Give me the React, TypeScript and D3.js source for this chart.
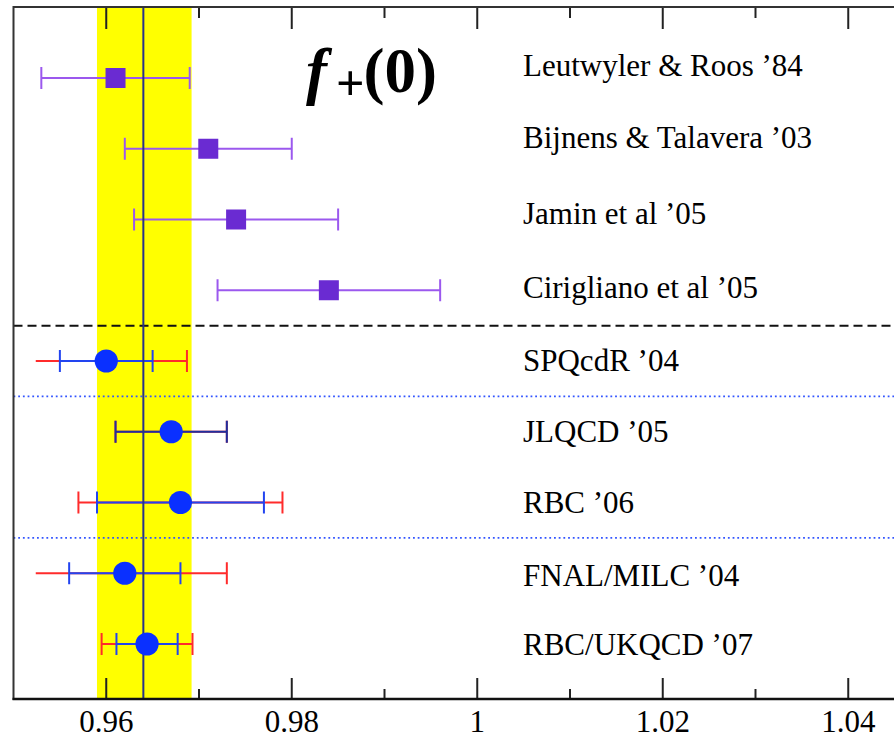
import React, { useEffect, useRef } from 'react';
import * as d3 from 'd3';

// measurements, top to bottom
const names = [
  'Leutwyler & Roos ’84',
  'Bijnens & Talavera ’03',
  'Jamin et al ’05',
  'Cirigliano et al ’05',
  'SPQcdR ’04',
  'JLQCD ’05',
  'RBC ’06',
  'FNAL/MILC ’04',
  'RBC/UKQCD ’07',
];
const kinds = ['model', 'model', 'model', 'model', 'lattice', 'lattice', 'lattice', 'lattice', 'lattice'];
const values = [0.961, 0.971, 0.974, 0.984, 0.96, 0.967, 0.968, 0.962, 0.9644];
const statErr = [0.008, 0.009, 0.011, 0.012, 0.005, 0.006, 0.009, 0.006, 0.0033];
const totalErr = [0, 0, 0, 0, 0.0087, 0.006, 0.011, 0.011, 0.0049];
const redClipMin = 0.9524; // red bars are cut here (no cap)

// average band
const bandLow = 0.959;
const bandHigh = 0.9692;
const bandCenter = 0.964;

// separators after row index
const dashedAfter = [3];
const dottedAfter = [4, 6];

const majorTicks = [0.96, 0.98, 1, 1.02, 1.04];
const minorTicks = [0.97, 0.99, 1.01, 1.03, 1.05];

const W = 894;
const H = 739;

const Chart = () => {
  const svgRef = useRef<SVGSVGElement | null>(null);

  useEffect(() => {
    if (!svgRef.current) return;
    const plotLeft = 13.5;
    const plotTop = 7;
    const plotBottom = 699;

    const x = d3.scaleLinear().domain([0.95, 1.05]).range([plotLeft, 941]);
    const y = d3.scaleLinear().domain([0, 8]).range([78, 644]);

    const svg = d3.select(svgRef.current);
    svg.selectAll('*').remove();

    const serif = '"Liberation Serif", "Times New Roman", serif';

    // yellow band
    svg.append('rect')
      .attr('x', x(bandLow))
      .attr('y', plotTop)
      .attr('width', x(bandHigh) - x(bandLow))
      .attr('height', plotBottom - plotTop)
      .attr('fill', '#ffff00');

    // separators
    svg.selectAll('.dash')
      .data(dashedAfter)
      .enter()
      .append('line')
      .attr('x1', plotLeft)
      .attr('x2', W)
      .attr('y1', d => y(d + 0.5))
      .attr('y2', d => y(d + 0.5))
      .attr('stroke', '#111')
      .attr('stroke-width', 2)
      .attr('stroke-dasharray', '9,5');

    svg.selectAll('.dot')
      .data(dottedAfter)
      .enter()
      .append('line')
      .attr('x1', plotLeft)
      .attr('x2', W)
      .attr('y1', d => y(d + 0.5))
      .attr('y2', d => y(d + 0.5))
      .attr('stroke', '#3355ff')
      .attr('stroke-width', 1.8)
      .attr('stroke-dasharray', '1.8,2.9');

    const rows = names.map((name, i) => ({
      name,
      i,
      kind: kinds[i],
      v: values[i],
      stat: statErr[i],
      tot: totalErr[i],
    }));

    const capH = 11;
    const errBar = (g, lo, hi, yy, color, capLo = true) => {
      g.append('line')
        .attr('x1', x(lo)).attr('x2', x(hi))
        .attr('y1', yy).attr('y2', yy)
        .attr('stroke', color).attr('stroke-width', 2);
      if (capLo) {
        g.append('line')
          .attr('x1', x(lo)).attr('x2', x(lo))
          .attr('y1', yy - capH).attr('y2', yy + capH)
          .attr('stroke', color).attr('stroke-width', 2);
      }
      g.append('line')
        .attr('x1', x(hi)).attr('x2', x(hi))
        .attr('y1', yy - capH).attr('y2', yy + capH)
        .attr('stroke', color).attr('stroke-width', 2);
    };

    const bars = svg.append('g');
    rows.forEach(r => {
      const yy = y(r.i);
      if (r.kind === 'model') {
        errBar(bars, r.v - r.stat, r.v + r.stat, yy, '#9b58ee');
      } else {
        const lo = r.v - r.tot;
        errBar(bars, Math.max(lo, redClipMin), r.v + r.tot, yy, '#ff2b2b', lo >= redClipMin);
        // where red and blue coincide the overlap looks navy
        errBar(bars, r.v - r.stat, r.v + r.stat, yy, r.tot <= r.stat ? '#1f2f9e' : '#2244f0');
      }
    });

    // central value
    svg.append('line')
      .attr('x1', x(bandCenter)).attr('x2', x(bandCenter))
      .attr('y1', plotTop).attr('y2', plotBottom)
      .attr('stroke', '#27338a')
      .attr('stroke-width', 2);

    // markers
    const sq = 20;
    svg.selectAll('.sq')
      .data(rows.filter(r => r.kind === 'model'))
      .enter()
      .append('rect')
      .attr('x', d => x(d.v) - sq / 2)
      .attr('y', d => y(d.i) - sq / 2)
      .attr('width', sq)
      .attr('height', sq)
      .attr('fill', '#6a2bd2');

    svg.selectAll('.circ')
      .data(rows.filter(r => r.kind === 'lattice'))
      .enter()
      .append('circle')
      .attr('cx', d => x(d.v))
      .attr('cy', d => y(d.i))
      .attr('r', 11.6)
      .attr('fill', '#0a30ff');

    // labels
    const labelShift = [-12, -11, -6, -2, 0, 0, 0, 3, 1];
    svg.selectAll('.lbl')
      .data(rows)
      .enter()
      .append('text')
      .attr('x', 523)
      .attr('y', d => y(d.i) + labelShift[d.i] + 10)
      .attr('font-family', serif)
      .attr('font-size', 31)
      .attr('fill', '#000')
      .text(d => d.name);

    // title f+(0)
    const title = svg.append('text')
      .attr('x', 306)
      .attr('y', 92)
      .attr('font-family', serif)
      .attr('font-weight', 'bold')
      .attr('font-size', 63)
      .attr('fill', '#000');
    title.append('tspan').attr('font-style', 'italic').text('f');
    title.append('tspan').attr('font-size', 50).attr('dx', 9).attr('dy', 8).text('+');
    title.append('tspan').attr('dx', -1).attr('dy', -8).text('(0)');

    // ticks top and bottom
    const tickG = svg.append('g').attr('stroke', '#222').attr('stroke-width', 2);
    [
      { list: majorTicks, len: 21 },
      { list: minorTicks, len: 10 },
    ].forEach(({ list, len }) => {
      list.forEach(t => {
        tickG.append('line')
          .attr('x1', x(t)).attr('x2', x(t))
          .attr('y1', plotBottom).attr('y2', plotBottom - len);
        tickG.append('line')
          .attr('x1', x(t)).attr('x2', x(t))
          .attr('y1', plotTop).attr('y2', plotTop + len + 1);
      });
    });

    svg.selectAll('.tl')
      .data(majorTicks)
      .enter()
      .append('text')
      .attr('x', d => x(d))
      .attr('y', 732)
      .attr('text-anchor', 'middle')
      .attr('font-family', serif)
      .attr('font-size', 31)
      .attr('fill', '#000')
      .text(d => d3.format('~g')(d));

    // frame
    svg.append('line')
      .attr('x1', plotLeft).attr('x2', W)
      .attr('y1', plotTop).attr('y2', plotTop)
      .attr('stroke', '#333').attr('stroke-width', 2);
    svg.append('line')
      .attr('x1', plotLeft).attr('x2', plotLeft)
      .attr('y1', plotTop - 1).attr('y2', plotBottom + 1)
      .attr('stroke', '#333').attr('stroke-width', 2);
    svg.append('line')
      .attr('x1', plotLeft - 1).attr('x2', W)
      .attr('y1', plotBottom).attr('y2', plotBottom)
      .attr('stroke', '#111').attr('stroke-width', 2.5);
  }, []);

  return (
    <svg
      ref={svgRef}
      width={W}
      height={H}
      style={{ position: 'absolute', left: 0, top: 0, display: 'block', background: '#fff' }}
    />
  );
};

export default function App() {
  return <Chart />;
}
